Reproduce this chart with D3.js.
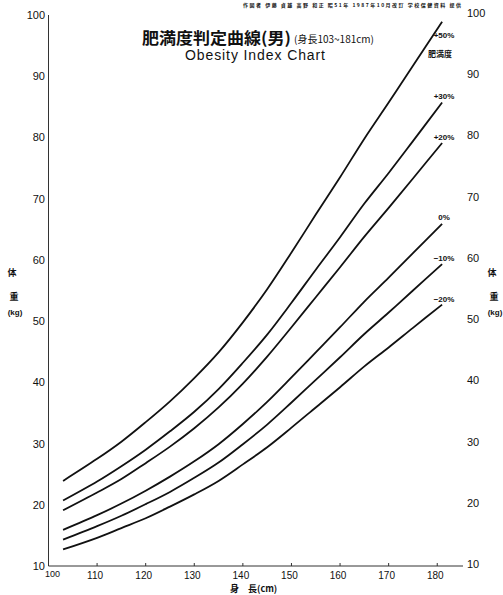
<!DOCTYPE html>
<html>
<head>
<meta charset="utf-8">
<script src="https://cdn.jsdelivr.net/npm/d3@7"></script>
<style>
  body { margin: 0; background: #fff; }
  text { fill: #111; }
</style>
</head>
<body>
<div id="chart"></div>
<script>
// Obesity index chart (boys, height 103-181 cm)
// Each curve is a weight line for one obesity level.
const heights = [103, 110, 115, 120, 125, 130, 135, 140, 145, 150, 155, 160, 165, 170, 175, 181];
const plus50  = [23.9, 27.5, 30.3, 33.5, 36.9, 40.7, 44.9, 49.8, 55.2, 61.2, 67.4, 73.5, 79.8, 85.7, 91.7, 98.9];
const plus30  = [20.7, 23.8, 26.3, 29.0, 32.0, 35.2, 38.9, 43.2, 47.8, 53.0, 58.4, 63.7, 69.2, 74.2, 79.4, 85.7];
const plus20  = [19.1, 22.0, 24.2, 26.8, 29.5, 32.5, 35.9, 39.8, 44.2, 49.0, 53.9, 58.8, 63.8, 68.5, 73.3, 79.1];
const zero    = [15.9, 18.3, 20.2, 22.3, 24.6, 27.1, 29.9, 33.2, 36.8, 40.8, 44.9, 49.0, 53.2, 57.1, 61.1, 65.9];
const minus10 = [14.3, 16.5, 18.2, 20.1, 22.1, 24.4, 26.9, 29.9, 33.1, 36.7, 40.4, 44.1, 47.9, 51.4, 55.0, 59.3];
const minus20 = [12.7, 14.6, 16.2, 17.8, 19.7, 21.7, 23.9, 26.6, 29.4, 32.6, 35.9, 39.2, 42.6, 45.7, 48.9, 52.7];

const seriesNames = ['+50%', '+30%', '+20%', '0%', '−10%', '−20%'];
const seriesValues = [plus50, plus30, plus20, zero, minus10, minus20];

const xTicks = [110, 120, 130, 140, 150, 160, 170, 180];
const yTicks = [20, 30, 40, 50, 60, 70, 80, 90, 100];

const width = 503, height = 595;
const svg = d3.select('#chart').append('svg').attr('width', width).attr('height', height);

// Scales fitted to the scanned frame
const x = d3.scaleLinear().domain([100, 185.3]).range([48.5, 463]);
const y = d3.scaleLinear().domain([10, 100]).range([566, 15]);

const numFont = '"Liberation Sans", Arial, sans-serif';
const jpFont = '"Noto Sans CJK JP", sans-serif';

// Left axis line and bottom axis line
svg.append('line')
  .attr('x1', x(100)).attr('x2', x(100))
  .attr('y1', y(100)).attr('y2', y(10))
  .attr('stroke', '#333').attr('stroke-width', 1);
svg.append('line')
  .attr('x1', x(100)).attr('x2', x(185.3))
  .attr('y1', y(10)).attr('y2', y(10))
  .attr('stroke', '#333').attr('stroke-width', 1);

// Little tick marks on the bottom line
svg.selectAll('.xtick')
  .data(xTicks)
  .enter().append('line')
  .attr('x1', d => x(d)).attr('x2', d => x(d))
  .attr('y1', y(10)).attr('y2', y(10) - 3)
  .attr('stroke', '#333').attr('stroke-width', 1);

// Left and right weight labels
svg.selectAll('.yl')
  .data(yTicks.concat([10]))
  .enter().append('text')
  .attr('x', 45).attr('y', d => y(d) + 4)
  .attr('text-anchor', 'end')
  .style('font-family', numFont).style('font-size', '11px')
  .text(d => d);
svg.selectAll('.yr')
  .data(yTicks.concat([10]))
  .enter().append('text')
  .attr('x', 467).attr('y', d => y(d) + 2)
  .attr('text-anchor', 'start')
  .style('font-family', numFont).style('font-size', '11px')
  .text(d => d);

// Height labels under the bottom line
svg.selectAll('.xl')
  .data(xTicks)
  .enter().append('text')
  .attr('x', d => x(d) - 2).attr('y', 579)
  .attr('text-anchor', 'middle')
  .style('font-family', numFont).style('font-size', '10px')
  .text(d => d);
svg.append('text')
  .attr('x', x(100) + 4).attr('y', 577)
  .attr('text-anchor', 'middle')
  .style('font-family', numFont).style('font-size', '9px')
  .text('100');

// Weight curves
const line = d3.line()
  .x((d, i) => x(heights[i]))
  .y(d => y(d))
  .curve(d3.curveCatmullRom.alpha(0.5));

svg.selectAll('.curve')
  .data(seriesValues)
  .enter().append('path')
  .attr('d', d => line(d))
  .attr('fill', 'none')
  .attr('stroke', '#111')
  .attr('stroke-width', 1.8);

// Curve labels, just above each line end
const labelY = [35, 96, 137, 217, 258, 299];
svg.selectAll('.cl')
  .data(seriesNames)
  .enter().append('text')
  .attr('x', 444).attr('y', (d, i) => labelY[i] + 3)
  .attr('text-anchor', 'middle')
  .style('font-family', numFont).style('font-size', '8px').style('font-weight', 'bold')
  .text(d => d);
svg.append('text')
  .attr('x', 440).attr('y', 57)
  .attr('text-anchor', 'middle')
  .style('font-family', jpFont).style('font-size', '8px').style('font-weight', 'bold')
  .text('肥満度');

// Titles
svg.append('text')
  .attr('x', 142).attr('y', 44)
  .attr('textLength', 149).attr('lengthAdjust', 'spacingAndGlyphs')
  .style('font-family', jpFont).style('font-size', '16px').style('font-weight', 'bold')
  .text('肥満度判定曲線(男)');
svg.append('text')
  .attr('x', 294).attr('y', 43)
  .style('font-family', jpFont).style('font-size', '10px')
  .text('(身長103~181cm)');
svg.append('text')
  .attr('x', 185).attr('y', 60)
  .attr('textLength', 140).attr('lengthAdjust', 'spacing')
  .style('font-family', numFont).style('font-size', '14px')
  .text('Obesity Index Chart');

// Tiny credit line along the top edge
svg.append('text')
  .attr('x', 243).attr('y', 7)
  .attr('textLength', 218).attr('lengthAdjust', 'spacing')
  .style('font-family', jpFont).style('font-size', '5px').style('font-weight', 'bold')
  .text('作図者  伊藤 貞雄  高野 和正    昭51年  1987年10月改訂 学校保健資料 提供');

// Axis titles
svg.append('text')
  .attr('x', 230).attr('y', 592)
  .style('font-family', jpFont).style('font-size', '9px').style('font-weight', 'bold')
  .text('身　長(cm)');

[[12, 'left'], [492, 'right']].forEach(([cx]) => {
  svg.append('text').attr('x', cx).attr('y', 276).attr('text-anchor', 'middle')
    .style('font-family', jpFont).style('font-size', '9px').style('font-weight', 'bold').text('体');
  svg.append('text').attr('x', cx + 2).attr('y', 300).attr('text-anchor', 'middle')
    .style('font-family', jpFont).style('font-size', '9px').style('font-weight', 'bold').text('重');
  svg.append('text').attr('x', cx + 3).attr('y', 315).attr('text-anchor', 'middle')
    .style('font-family', numFont).style('font-size', '8px').style('font-weight', 'bold').text('(kg)');
});
</script>
</body>
</html>
